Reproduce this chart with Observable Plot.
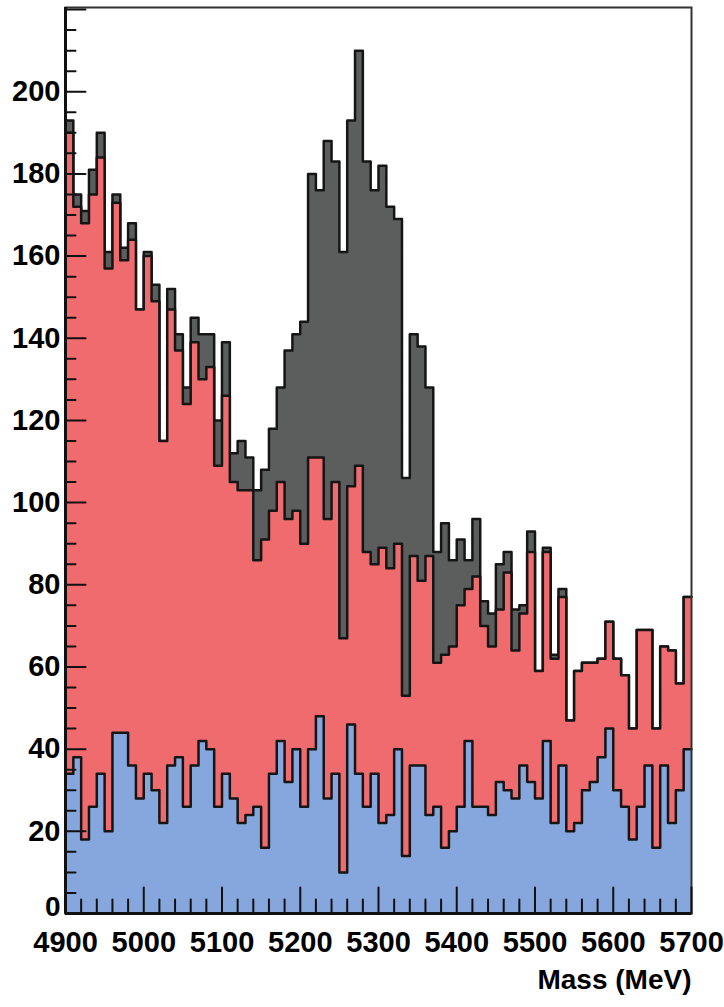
<!DOCTYPE html>
<html><head><meta charset="utf-8">
<script src="https://cdn.jsdelivr.net/npm/d3@7"></script>
<script src="https://cdn.jsdelivr.net/npm/@observablehq/plot@0.6"></script>
<style>
html,body{margin:0;padding:0;background:#fff;}
#chart svg{display:block;}
</style>
</head><body><div id="chart"></div>
<script>
// 10 MeV bins from 4900 to 5700 MeV
const binStart = 4900;
const binWidth = 10;

// Total (dark gray) histogram
const total = [193,175,171,181,190,161,175,162,168,147,
               161,153,115,152,141,128,145,141,141,120,
               139,112,115,111,103,108,118,128,137,141,
               144,180,176,188,183,161,193,210,183,176,
               182,172,169,106,141,138,128,88,95,86,
               91,86,96,76,73,85,88,74,75,93,
               59,89,63,79,47,59,61,61,62,71,
               62,58,45,69,69,45,65,64,56,77];

// Red histogram
const red = [190,172,168,175,184,157,173,159,164,147,
             160,149,115,147,137,124,139,130,133,109,
             126,105,103,103,86,91,98,105,96,98,
             90,111,111,96,105,67,104,109,88,85,
             89,84,90,53,87,81,87,61,63,65,
             75,79,82,70,65,74,83,64,73,88,
             59,88,62,77,47,59,61,61,62,71,
             62,58,45,69,69,45,65,64,56,77];

// Blue histogram
const blue = [34,38,18,26,34,20,44,44,36,28,
              34,30,22,36,38,26,36,42,40,26,
              34,28,22,24,26,16,34,42,32,40,
              26,40,48,28,34,10,46,34,26,34,
              22,24,40,14,36,36,24,26,16,20,
              26,42,26,26,24,32,30,28,36,32,
              28,42,22,36,20,22,30,32,38,45,
              30,26,18,26,36,16,36,22,30,40];

const xTickLabels = [4900,5000,5100,5200,5300,5400,5500,5600,5700];
const yTickLabels = [20,40,60,80,100,120,140,160,180,200];
const yZeroLabel = [0];
const xMinorTicks = d3.range(4900, 5701, 20);
const yMinorTicks = d3.range(0, 221, 5);
const xTitle = "Mass (MeV)";

const edges = d3.range(total.length + 1).map(i => binStart + i * binWidth);
const steps = vals => edges.map((x, i) => ({x, y: vals[Math.min(i, vals.length - 1)]}));

const tickShape = {draw(context, l) { context.moveTo(0, 0); context.lineTo(0, -l); }};
const font = "'Liberation Sans', Arial, Helvetica, sans-serif";

const layers = [
  {vals: total, fill: "#5c5e5e"},
  {vals: red, fill: "#f06b6e"},
  {vals: blue, fill: "#85a7dd"}
];

const marks = [];
for (const L of layers) {
  const pts = steps(L.vals);
  marks.push(Plot.areaY(pts, {x: "x", y: "y", curve: "step-after", fill: L.fill}));
  marks.push(Plot.line(pts, {x: "x", y: "y", curve: "step-after", stroke: "#151515", strokeWidth: 2.5}));
}

marks.push(
  Plot.frame({stroke: "#333", strokeWidth: 2}),
  Plot.ruleX([4900], {stroke: "#111", strokeWidth: 3}),
  Plot.ruleY([0], {stroke: "#111", strokeWidth: 3}),
  Plot.vector(yMinorTicks, {y: d => d, frameAnchor: "left", length: d => (d % 20 === 0 ? 20 : 10), rotate: 90, anchor: "start", shape: tickShape, stroke: "#111", strokeWidth: 2}),
  Plot.vector(xMinorTicks, {x: d => d, frameAnchor: "bottom", length: d => (d % 100 === 0 ? 26 : 14), rotate: 0, anchor: "start", shape: tickShape, stroke: "#111", strokeWidth: 2}),
  Plot.axisY(yTickLabels, {tickSize: 0, tickPadding: 5, fontSize: 29, fontWeight: "bold", label: null, fill: "#000"}),
  Plot.text(yZeroLabel, {y: d => d, frameAnchor: "left", textAnchor: "end", dx: -5, dy: -6, fontSize: 28, fontWeight: "bold", fill: "#000", text: d => String(d)}),
  Plot.axisX(xTickLabels, {tickSize: 0, tickPadding: 18, fontSize: 29, fontWeight: "bold", label: null, tickFormat: d => String(d), fill: "#000"}),
  Plot.text([xTitle], {frameAnchor: "bottom-right", textAnchor: "end", dx: 0, dy: 75, fontSize: 28, fontWeight: "bold", fill: "#000", text: d => d})
);

const chart = Plot.plot({
  width: 724,
  height: 1007,
  marginLeft: 65,
  marginRight: 33,
  marginTop: 7,
  marginBottom: 94,
  x: {domain: [4900, 5700]},
  y: {domain: [0, 220.5]},
  length: {type: "identity"},
  style: {fontFamily: font, background: "white", overflow: "visible"},
  marks
});
document.getElementById("chart").appendChild(chart);
</script>
</body></html>
